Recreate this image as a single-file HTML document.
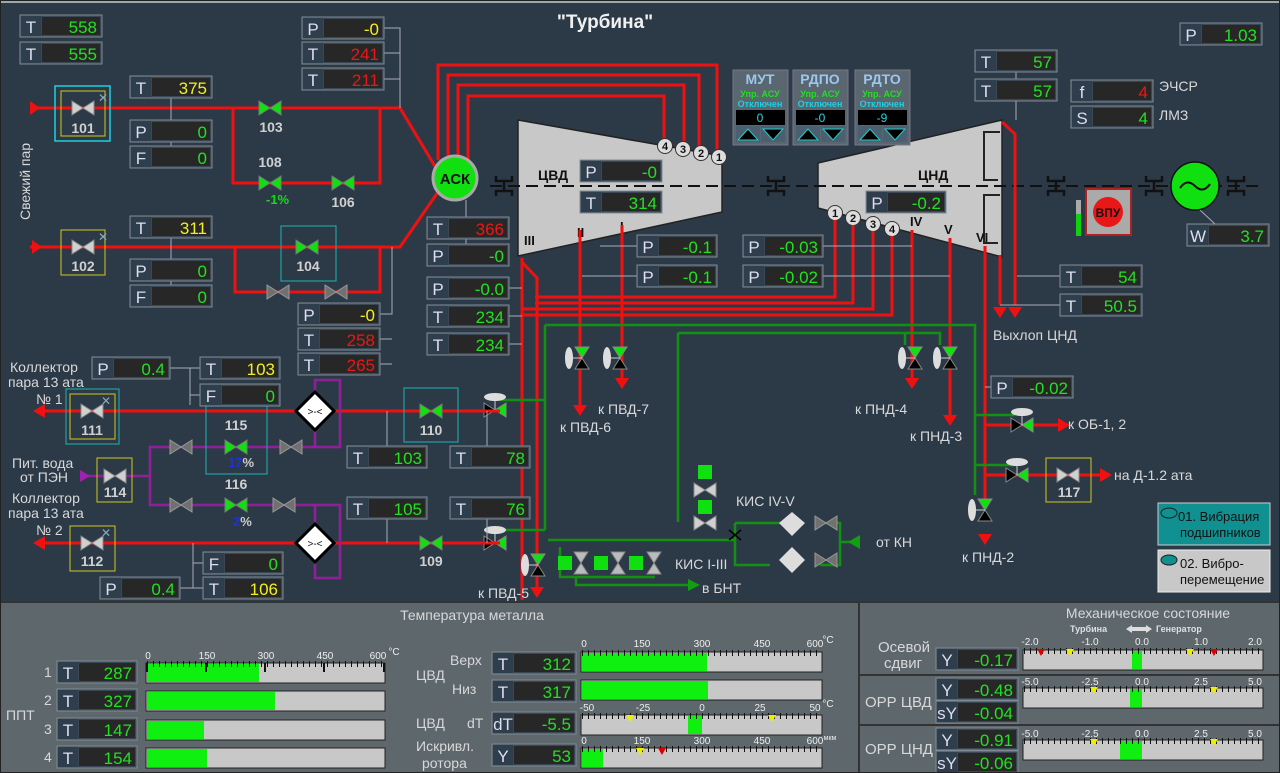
<!DOCTYPE html>
<html><head><meta charset="utf-8"><style>
html,body{margin:0;padding:0;background:#2c3a48;}
svg{display:block;font-family:"Liberation Sans",sans-serif;}
.o{fill:#3a4855;stroke:#808b93;stroke-width:1}
.l{fill:#2f3e4c}
.d{fill:#272727}
.lt{fill:#dde;font-size:17px;text-anchor:middle}
.vt{font-size:17px;text-anchor:end}
.g{fill:#22e022}.y{fill:#f0f020}.r{fill:#e81818}
.lbl{fill:#d8d8d8;font-size:14px}
.num{fill:#d0d0d0;font-size:14px;font-weight:bold;text-anchor:middle}
.rp{stroke:#f01010;stroke-width:3;fill:none}
.gp{stroke:#129012;stroke-width:2.5;fill:none}
.pp{stroke:#90209a;stroke-width:2.5;fill:none}
.wl{stroke:#aab;stroke-width:1;fill:none}
.bar{fill:#c8c8c8;stroke:#222;stroke-width:1}
.tk{fill:#eee;font-size:10px;text-anchor:middle}
</style></head><body>
<svg width="1280" height="773" viewBox="0 0 1280 773" xmlns="http://www.w3.org/2000/svg">
<defs>
<g id="vG"><polygon points="-11,-7 0,0 -11,7" fill="#10e010" stroke="#777"/><polygon points="11,-7 0,0 11,7" fill="#10e010" stroke="#777"/></g>
<g id="vW"><polygon points="-11,-7 0,0 -11,7" fill="#d0d0d0" stroke="#888"/><polygon points="11,-7 0,0 11,7" fill="#d0d0d0" stroke="#888"/></g>
<g id="vD"><polygon points="-11,-7 0,0 -11,7" fill="#707070" stroke="#999"/><polygon points="11,-7 0,0 11,7" fill="#707070" stroke="#999"/></g>
<g id="vBG"><polygon points="-11,-7 0,0 -11,7" fill="#000" stroke="#888"/><polygon points="11,-7 0,0 11,7" fill="#10e010" stroke="#888"/><ellipse cx="0" cy="-13" rx="11" ry="4" fill="#ddd"/><line x1="0" y1="-9" x2="0" y2="0" stroke="#ccc"/></g>
<g id="vV"><polygon points="-7,-11 0,0 7,-11" fill="#10e010" stroke="#888"/><polygon points="-7,11 0,0 7,11" fill="#000" stroke="#888"/><ellipse cx="-13" cy="0" rx="4" ry="11" fill="#ddd"/><line x1="-9" y1="0" x2="0" y2="0" stroke="#ccc"/></g>
<g id="vVG"><polygon points="-7,-11 0,0 7,-11" fill="#bbb" stroke="#888"/><polygon points="-7,11 0,0 7,11" fill="#bbb" stroke="#888"/></g>
<g id="arR"><polygon points="0,0 -7,-11 7,-11" fill="#f01010"/></g>
<g id="cp" stroke="#111" stroke-width="2.5" fill="none"><path d="M-8,-10 v5 h16 v-5 M-8,10 v-5 h16 v5 M0,-5 v10"/></g>
</defs>
<rect x="0" y="0" width="1280" height="773" fill="#2c3a48"/>
<rect x="0" y="0" width="1280" height="3" fill="#9aa"/>
<text x="605" y="28" fill="#f0f0f0" font-size="19" font-weight="bold" text-anchor="middle">"Турбина"</text>

<path class="rp" d="M30,108 H400 L436,168"/>
<path class="rp" d="M30,247 H400 L438,192"/>
<path class="rp" d="M233,108 V183 H380 V108"/>
<path class="rp" d="M235,247 V292 H380 V247"/>
<polygon points="30,101 40,108 30,115" fill="#f01010"/>
<polygon points="32,240 42,247 32,254" fill="#f01010"/>
<path class="rp" d="M438,160 V65 H717 V152"/>
<path class="rp" d="M448,158 V75 H699 V146"/>
<path class="rp" d="M458,157 V85 H684 V142"/>
<path class="rp" d="M468,159 V96 H664 V140"/>

<polygon points="518,120 722,156 722,212 518,256" fill="#c8c8c8" stroke="#222" stroke-width="1.5"/>
<polygon points="818,163 1002,120 1002,257 818,208" fill="#c8c8c8" stroke="#222" stroke-width="1.5"/>
<path d="M1000,132 h-16 v48 h14 M1000,195 h-16 v48 h14" stroke="#222" stroke-width="2" fill="none"/>
<line x1="490" y1="186" x2="1260" y2="186" stroke="#111" stroke-width="2" stroke-dasharray="12,6"/>
<use href="#cp" x="504" y="186"/><use href="#cp" x="776" y="186"/><use href="#cp" x="1056" y="186"/><use href="#cp" x="1154" y="186"/><use href="#cp" x="1236" y="186"/>
<text x="538" y="180" font-size="14" font-weight="bold" fill="#111">ЦВД</text>
<text x="918" y="180" font-size="14" font-weight="bold" fill="#111">ЦНД</text>
<g font-size="13" font-weight="bold" fill="#111">
<text x="524" y="245">III</text><text x="577" y="237">II</text><text x="620" y="231">I</text>
<text x="910" y="226">IV</text><text x="944" y="234">V</text><text x="976" y="242">VI</text></g>
<g font-size="11" font-weight="bold" text-anchor="middle" fill="#111">
<circle cx="665" cy="146" r="7.5" fill="#ddd" stroke="#333"/><text x="665" y="150">4</text>
<circle cx="683" cy="149" r="7.5" fill="#ddd" stroke="#333"/><text x="683" y="153">3</text>
<circle cx="701" cy="153" r="7.5" fill="#ddd" stroke="#333"/><text x="701" y="157">2</text>
<circle cx="719" cy="157" r="7.5" fill="#ddd" stroke="#333"/><text x="719" y="161">1</text>
<circle cx="835" cy="213" r="7.5" fill="#ddd" stroke="#333"/><text x="835" y="217">1</text>
<circle cx="853" cy="218" r="7.5" fill="#ddd" stroke="#333"/><text x="853" y="222">2</text>
<circle cx="873" cy="224" r="7.5" fill="#ddd" stroke="#333"/><text x="873" y="228">3</text>
<circle cx="892" cy="229" r="7.5" fill="#ddd" stroke="#333"/><text x="892" y="233">4</text></g>

<circle cx="455" cy="178" r="22" fill="#10e010" stroke="#aaa" stroke-width="3"/>
<text x="455" y="184" font-size="15" font-weight="bold" text-anchor="middle" fill="#111">АСК</text>

<path class="rp" d="M522,258 V600"/>
<path class="rp" d="M522,262 L537,278 V590"/>
<path class="rp" d="M535,297 H835 V220"/>
<path class="rp" d="M535,303 H853 V225"/>
<path class="rp" d="M522,309 H873 V231"/>
<path class="rp" d="M522,315 H892 V236"/>
<path class="rp" d="M580,230 V405"/><use href="#arR" x="580" y="416"/>
<path class="rp" d="M622,225 V378"/><use href="#arR" x="622" y="389"/>
<path class="rp" d="M912,230 V378"/><use href="#arR" x="912" y="389"/>
<path class="rp" d="M950,238 V415"/><use href="#arR" x="950" y="426"/>
<path class="rp" d="M985,246 V505"/><use href="#arR" x="985" y="545"/>
<path class="rp" d="M1002,122 L1015,134 V305"/><use href="#arR" x="1015" y="318"/>
<path class="rp" d="M1000,255 V305"/><use href="#arR" x="1000" y="318"/>
<path class="rp" d="M985,425 H1060"/><polygon points="1058,418 1070,425 1058,432" fill="#f01010"/>
<path class="rp" d="M985,475 H1100"/><polygon points="1100,468 1112,475 1100,482" fill="#f01010"/>
<use href="#arR" x="537" y="598"/>

<path class="gp" d="M545,325 H975 V400 M545,325 V530 M975,400 V495"/>
<path class="gp" d="M678,333 H940 V345 M678,333 V522 M905,333 V345"/>
<path class="gp" d="M545,400 H500 M545,530 H500 M548,540 H735"/>
<path class="gp" d="M975,415 H1015 M975,465 H1015"/>
<path class="gp" d="M576,577 V585 H690"/><polygon points="688,579 700,585 688,591" fill="#10a010"/>
<path class="gp" d="M735,523 V565 H770 M735,523 H780 M820,523 H840 V565 H820 M840,542 H860"/>
<polygon points="860,535 848,542 860,549" fill="#10a010"/>
<path class="gp" d="M560,547 V577 H655"/>
<line x1="729" y1="530" x2="741" y2="540" stroke="#000" stroke-width="1.5"/><line x1="741" y1="530" x2="729" y2="540" stroke="#000" stroke-width="1.5"/>

<use href="#vV" x="582" y="358"/><use href="#vV" x="620" y="358"/>
<use href="#vV" x="915" y="358"/><use href="#vV" x="950" y="358"/>
<use href="#vV" x="985" y="510"/><use href="#vV" x="538" y="565"/>
<use href="#vBG" x="495" y="410"/><use href="#vBG" x="495" y="543"/>
<use href="#vBG" x="1022" y="425"/><use href="#vBG" x="1017" y="475"/>
<rect x="698" y="465" width="14" height="14" fill="#10e010"/><rect x="698" y="500" width="14" height="14" fill="#10e010"/>
<use href="#vW" x="705" y="490"/>
<use href="#vW" x="705" y="523"/>
<rect x="558" y="556" width="14" height="14" fill="#10e010"/><rect x="594" y="556" width="14" height="14" fill="#10e010"/><rect x="629" y="556" width="14" height="14" fill="#10e010"/>
<use href="#vVG" x="581" y="563"/><use href="#vVG" x="618" y="563"/><use href="#vVG" x="654" y="563"/>
<polygon points="792,512 805,523 792,536 779,523" fill="#ddd"/>
<polygon points="792,547 805,560 792,573 779,560" fill="#ddd"/>
<use href="#vD" x="826" y="523"/><use href="#vD" x="826" y="560"/>

<path class="rp" d="M40,411 H500"/>
<path class="rp" d="M40,543 H500"/>
<polygon points="45,404 33,411 45,418" fill="#f01010"/>
<polygon points="45,536 33,543 45,550" fill="#f01010"/>
<path class="pp" d="M80,476 H150 V447 H315 V380 H340 V447 H315 M150,476 V505 H315 V578 H340 V505 H315"/>
<polygon points="80,470 90,476 80,482" fill="#a020b0"/>
<polygon points="315,392 334,411 315,430 296,411" fill="#fff" stroke="#000" stroke-width="3"/>
<polygon points="315,524 334,543 315,562 296,543" fill="#fff" stroke="#000" stroke-width="3"/>
<text x="315" y="415" font-size="10" text-anchor="middle" fill="#111">&gt;-&lt;</text>
<text x="315" y="547" font-size="10" text-anchor="middle" fill="#111">&gt;-&lt;</text>

<rect x="55" y="86" width="55" height="55" fill="none" stroke="#20d0e0" stroke-width="1.5"/>
<rect x="61" y="91" width="44" height="45" fill="none" stroke="#d0c820" stroke-width="1"/>
<use href="#vW" x="83" y="108"/><text class="num" x="83" y="133">101</text><text x="98" y="102" fill="#8ab" font-size="12">✕</text>
<rect x="61" y="230" width="44" height="45" fill="none" stroke="#d0c820" stroke-width="1"/>
<use href="#vW" x="83" y="247"/><text class="num" x="83" y="271">102</text><text x="98" y="241" fill="#8ab" font-size="12">✕</text>
<use href="#vG" x="270" y="108"/><text class="num" x="271" y="132">103</text>
<text class="num" x="270" y="167">108</text><use href="#vG" x="270" y="183"/><text x="266" y="204" fill="#1d1" font-size="13" font-weight="bold">-1%</text>
<use href="#vG" x="343" y="183"/><text class="num" x="343" y="207">106</text>
<rect x="281" y="226" width="55" height="55" fill="none" stroke="#20a0a0" stroke-width="1.2"/>
<use href="#vG" x="307" y="247"/><text class="num" x="308" y="271">104</text>
<use href="#vD" x="278" y="292"/><use href="#vD" x="336" y="292"/>
<rect x="66" y="389" width="53" height="55" fill="none" stroke="#20a0a0" stroke-width="1.2"/>
<rect x="70" y="394" width="45" height="45" fill="none" stroke="#d0c820"/>
<use href="#vW" x="92" y="411"/><text class="num" x="92" y="435">111</text><text x="101" y="405" fill="#8ab" font-size="12">✕</text>
<rect x="97" y="458" width="35" height="44" fill="none" stroke="#d0c820"/>
<use href="#vW" x="115" y="476"/><text class="num" x="115" y="497">114</text>
<rect x="70" y="526" width="45" height="45" fill="none" stroke="#d0c820"/>
<use href="#vW" x="92" y="543"/><text class="num" x="92" y="566">112</text><text x="101" y="537" fill="#8ab" font-size="12">✕</text>
<rect x="206" y="406" width="61" height="68" fill="none" stroke="#20a0a0" stroke-width="1.2"/>
<text class="num" x="236" y="430">115</text><use href="#vG" x="236" y="447"/><text x="228" y="467" font-size="13" font-weight="bold"><tspan fill="#2030e0">17</tspan><tspan fill="#ccc">%</tspan></text>
<use href="#vD" x="181" y="447"/><use href="#vD" x="291" y="447"/>
<text class="num" x="236" y="489">116</text><use href="#vG" x="236" y="505"/><text x="233" y="526" font-size="13" font-weight="bold"><tspan fill="#2030e0">2</tspan><tspan fill="#ccc">%</tspan></text>
<use href="#vD" x="181" y="505"/><use href="#vD" x="284" y="505"/>
<rect x="404" y="388" width="54" height="54" fill="none" stroke="#20a0a0" stroke-width="1.2"/>
<use href="#vG" x="431" y="411"/><text class="num" x="431" y="435">110</text>
<use href="#vG" x="431" y="543"/><text class="num" x="431" y="566">109</text>
<rect x="1046" y="458" width="45" height="44" fill="none" stroke="#d0c820"/>
<use href="#vW" x="1068" y="475"/><text class="num" x="1069" y="497">117</text>

<path class="wl" d="M384,28 H400 V108 M384,53 H400 M384,79 H400"/>
<path class="wl" d="M171,98 V120 M171,142 V146 M171,238 V259 M171,281 V285"/>
<path class="wl" d="M380,314 H392 V247 M380,339 H392 M380,364 H392"/>
<path class="wl" d="M466,200 V217 M466,239 V244 M507,288 H522 M507,316 H522 M507,344 H522"/>
<path class="wl" d="M600,246 H637 M582,276 H637 M823,246 H912 M823,276 H950"/>
<path class="wl" d="M1016,72 V79 M1016,101 V120 M1017,276 H1060 M1000,305 H1060 M985,387 H991"/>
<path class="wl" d="M1200,210 L1215,224"/>
<path class="wl" d="M170,368 H190 V405 M190,368 H200 M190,395 H200"/>
<path class="wl" d="M387,411 V446 M487,411 V446 M387,519 V543 M487,519 V543"/>
<path class="wl" d="M193,543 V588 H203 M193,563 H203 M180,588 H193"/>

<circle cx="1195" cy="186" r="24" fill="#10e010" stroke="#111" stroke-width="1.5"/>
<path d="M1180,188 q7,-10 15,-2 q8,8 15,-2" stroke="#111" stroke-width="2" fill="none"/>
<rect x="1086" y="189" width="45" height="46" fill="#aaa" stroke="#b02020" stroke-width="2"/>
<circle cx="1108" cy="212" r="15" fill="#e81818"/>
<text x="1108" y="217" font-size="12" font-weight="bold" text-anchor="middle" fill="#111">ВПУ</text>
<rect x="1076" y="200" width="5" height="36" fill="#aaa"/><rect x="1076" y="214" width="5" height="22" fill="#10d010"/>

<g font-weight="bold" text-anchor="middle">
<rect x="733" y="70" width="55" height="75" fill="#5a6670" stroke="#778"/>
<text x="760" y="84" fill="#9cc8f0" font-size="14">МУТ</text><text x="760" y="97" fill="#20e020" font-size="9">Упр. АСУ</text><text x="760" y="107" fill="#20d0e0" font-size="9">Отключен</text>
<rect x="736" y="110" width="49" height="15" fill="#000"/><text x="760" y="122" fill="#30d0e0" font-size="12" font-weight="normal">0</text>
<rect x="736" y="126" width="24" height="16" fill="#4a6070"/><rect x="761" y="126" width="24" height="16" fill="#4a6070"/>
<polygon points="738,140 748,129 758,140" fill="#000" stroke="#2cc"/><polygon points="763,129 783,129 773,140" fill="#000" stroke="#2cc"/>
<rect x="793" y="70" width="55" height="75" fill="#5a6670" stroke="#778"/>
<text x="820" y="84" fill="#9cc8f0" font-size="14">РДПО</text><text x="820" y="97" fill="#20e020" font-size="9">Упр. АСУ</text><text x="820" y="107" fill="#20d0e0" font-size="9">Отключен</text>
<rect x="796" y="110" width="49" height="15" fill="#000"/><text x="820" y="122" fill="#30d0e0" font-size="12" font-weight="normal">-0</text>
<rect x="796" y="126" width="24" height="16" fill="#4a6070"/><rect x="821" y="126" width="24" height="16" fill="#4a6070"/>
<polygon points="798,140 808,129 818,140" fill="#000" stroke="#2cc"/><polygon points="823,129 843,129 833,140" fill="#000" stroke="#2cc"/>
<rect x="855" y="70" width="55" height="75" fill="#5a6670" stroke="#778"/>
<text x="882" y="84" fill="#9cc8f0" font-size="14">РДТО</text><text x="882" y="97" fill="#20e020" font-size="9">Упр. АСУ</text><text x="882" y="107" fill="#20d0e0" font-size="9">Отключен</text>
<rect x="858" y="110" width="49" height="15" fill="#000"/><text x="882" y="122" fill="#30d0e0" font-size="12" font-weight="normal">-9</text>
<rect x="858" y="126" width="24" height="16" fill="#4a6070"/><rect x="883" y="126" width="24" height="16" fill="#4a6070"/>
<polygon points="860,140 870,129 880,140" fill="#000" stroke="#2cc"/><polygon points="885,129 905,129 895,140" fill="#000" stroke="#2cc"/>
</g>

<text class="lbl" transform="translate(30,220) rotate(-90)">Свежий пар</text>
<text class="lbl" x="10" y="372">Коллектор</text><text class="lbl" x="8" y="387">пара 13 ата</text><text class="lbl" x="36" y="404">№ 1</text>
<text class="lbl" x="12" y="468">Пит. вода</text><text class="lbl" x="20" y="482">от ПЭН</text>
<text class="lbl" x="12" y="503">Коллектор</text><text class="lbl" x="8" y="518">пара 13 ата</text><text class="lbl" x="36" y="535">№ 2</text>
<text class="lbl" x="560" y="432">к ПВД-6</text><text class="lbl" x="598" y="414">к ПВД-7</text>
<text class="lbl" x="478" y="598">к ПВД-5</text>
<text class="lbl" x="855" y="414">к ПНД-4</text><text class="lbl" x="910" y="441">к ПНД-3</text>
<text class="lbl" x="962" y="562">к ПНД-2</text>
<text class="lbl" x="993" y="340">Выхлоп ЦНД</text>
<text class="lbl" x="1068" y="429">к ОБ-1, 2</text><text class="lbl" x="1114" y="480">на Д-1.2 ата</text>
<text class="lbl" x="736" y="506">КИС IV-V</text><text class="lbl" x="675" y="569">КИС I-III</text>
<text class="lbl" x="702" y="593">в БНТ</text><text class="lbl" x="876" y="547">от КН</text>
<text class="lbl" x="1159" y="91">ЭЧСР</text><text class="lbl" x="1159" y="120">ЛМЗ</text>

<rect x="1158" y="503" width="112" height="42" fill="#109090" stroke="#ccc"/>
<ellipse cx="1169" cy="513" rx="8" ry="5" fill="#109090" stroke="#222"/>
<text x="1178" y="521" font-size="13" fill="#111">01. Вибрация</text><text x="1180" y="537" font-size="13" fill="#111">подшипников</text>
<rect x="1158" y="550" width="112" height="42" fill="#c8c8c8" stroke="#eee"/>
<ellipse cx="1169" cy="560" rx="8" ry="5" fill="#109090" stroke="#222"/>
<text x="1180" y="568" font-size="13" fill="#111">02. Вибро-</text><text x="1180" y="584" font-size="13" fill="#111">перемещение</text>

<g transform="translate(20,15)"><rect class="o" width="82" height="22"/><rect class="l" x="1" y="1" width="20" height="20"/><text class="lt" x="11" y="18">T</text><rect class="d" x="22" y="2" width="58" height="18"/><text class="vt g" x="77" y="18">558</text></g>
<g transform="translate(20,42)"><rect class="o" width="82" height="22"/><rect class="l" x="1" y="1" width="20" height="20"/><text class="lt" x="11" y="18">T</text><rect class="d" x="22" y="2" width="58" height="18"/><text class="vt g" x="77" y="18">555</text></g>
<g transform="translate(302,17)"><rect class="o" width="82" height="22"/><rect class="l" x="1" y="1" width="20" height="20"/><text class="lt" x="11" y="18">P</text><rect class="d" x="22" y="2" width="58" height="18"/><text class="vt y" x="77" y="18">-0</text></g>
<g transform="translate(302,42)"><rect class="o" width="82" height="22"/><rect class="l" x="1" y="1" width="20" height="20"/><text class="lt" x="11" y="18">T</text><rect class="d" x="22" y="2" width="58" height="18"/><text class="vt r" x="77" y="18">241</text></g>
<g transform="translate(302,68)"><rect class="o" width="82" height="22"/><rect class="l" x="1" y="1" width="20" height="20"/><text class="lt" x="11" y="18">T</text><rect class="d" x="22" y="2" width="58" height="18"/><text class="vt r" x="77" y="18">211</text></g>
<g transform="translate(130,76)"><rect class="o" width="82" height="22"/><rect class="l" x="1" y="1" width="20" height="20"/><text class="lt" x="11" y="18">T</text><rect class="d" x="22" y="2" width="58" height="18"/><text class="vt y" x="77" y="18">375</text></g>
<g transform="translate(130,120)"><rect class="o" width="82" height="22"/><rect class="l" x="1" y="1" width="20" height="20"/><text class="lt" x="11" y="18">P</text><rect class="d" x="22" y="2" width="58" height="18"/><text class="vt g" x="77" y="18">0</text></g>
<g transform="translate(130,146)"><rect class="o" width="82" height="22"/><rect class="l" x="1" y="1" width="20" height="20"/><text class="lt" x="11" y="18">F</text><rect class="d" x="22" y="2" width="58" height="18"/><text class="vt g" x="77" y="18">0</text></g>
<g transform="translate(130,216)"><rect class="o" width="82" height="22"/><rect class="l" x="1" y="1" width="20" height="20"/><text class="lt" x="11" y="18">T</text><rect class="d" x="22" y="2" width="58" height="18"/><text class="vt y" x="77" y="18">311</text></g>
<g transform="translate(130,259)"><rect class="o" width="82" height="22"/><rect class="l" x="1" y="1" width="20" height="20"/><text class="lt" x="11" y="18">P</text><rect class="d" x="22" y="2" width="58" height="18"/><text class="vt g" x="77" y="18">0</text></g>
<g transform="translate(130,285)"><rect class="o" width="82" height="22"/><rect class="l" x="1" y="1" width="20" height="20"/><text class="lt" x="11" y="18">F</text><rect class="d" x="22" y="2" width="58" height="18"/><text class="vt g" x="77" y="18">0</text></g>
<g transform="translate(298,303)"><rect class="o" width="82" height="22"/><rect class="l" x="1" y="1" width="20" height="20"/><text class="lt" x="11" y="18">P</text><rect class="d" x="22" y="2" width="58" height="18"/><text class="vt y" x="77" y="18">-0</text></g>
<g transform="translate(298,328)"><rect class="o" width="82" height="22"/><rect class="l" x="1" y="1" width="20" height="20"/><text class="lt" x="11" y="18">T</text><rect class="d" x="22" y="2" width="58" height="18"/><text class="vt r" x="77" y="18">258</text></g>
<g transform="translate(298,353)"><rect class="o" width="82" height="22"/><rect class="l" x="1" y="1" width="20" height="20"/><text class="lt" x="11" y="18">T</text><rect class="d" x="22" y="2" width="58" height="18"/><text class="vt r" x="77" y="18">265</text></g>
<g transform="translate(427,217)"><rect class="o" width="82" height="22"/><rect class="l" x="1" y="1" width="20" height="20"/><text class="lt" x="11" y="18">T</text><rect class="d" x="22" y="2" width="58" height="18"/><text class="vt r" x="77" y="18">366</text></g>
<g transform="translate(427,244)"><rect class="o" width="82" height="22"/><rect class="l" x="1" y="1" width="20" height="20"/><text class="lt" x="11" y="18">P</text><rect class="d" x="22" y="2" width="58" height="18"/><text class="vt g" x="77" y="18">-0</text></g>
<g transform="translate(427,277)"><rect class="o" width="82" height="22"/><rect class="l" x="1" y="1" width="20" height="20"/><text class="lt" x="11" y="18">P</text><rect class="d" x="22" y="2" width="58" height="18"/><text class="vt g" x="77" y="18">-0.0</text></g>
<g transform="translate(427,305)"><rect class="o" width="82" height="22"/><rect class="l" x="1" y="1" width="20" height="20"/><text class="lt" x="11" y="18">T</text><rect class="d" x="22" y="2" width="58" height="18"/><text class="vt g" x="77" y="18">234</text></g>
<g transform="translate(427,333)"><rect class="o" width="82" height="22"/><rect class="l" x="1" y="1" width="20" height="20"/><text class="lt" x="11" y="18">T</text><rect class="d" x="22" y="2" width="58" height="18"/><text class="vt g" x="77" y="18">234</text></g>
<g transform="translate(580,160)"><rect class="o" width="82" height="22"/><rect class="l" x="1" y="1" width="20" height="20"/><text class="lt" x="11" y="18">P</text><rect class="d" x="22" y="2" width="58" height="18"/><text class="vt g" x="77" y="18">-0</text></g>
<g transform="translate(580,191)"><rect class="o" width="82" height="22"/><rect class="l" x="1" y="1" width="20" height="20"/><text class="lt" x="11" y="18">T</text><rect class="d" x="22" y="2" width="58" height="18"/><text class="vt g" x="77" y="18">314</text></g>
<g transform="translate(637,235)"><rect class="o" width="80" height="22"/><rect class="l" x="1" y="1" width="20" height="20"/><text class="lt" x="11" y="18">P</text><rect class="d" x="22" y="2" width="56" height="18"/><text class="vt g" x="75" y="18">-0.1</text></g>
<g transform="translate(637,265)"><rect class="o" width="80" height="22"/><rect class="l" x="1" y="1" width="20" height="20"/><text class="lt" x="11" y="18">P</text><rect class="d" x="22" y="2" width="56" height="18"/><text class="vt g" x="75" y="18">-0.1</text></g>
<g transform="translate(743,235)"><rect class="o" width="80" height="22"/><rect class="l" x="1" y="1" width="20" height="20"/><text class="lt" x="11" y="18">P</text><rect class="d" x="22" y="2" width="56" height="18"/><text class="vt g" x="75" y="18">-0.03</text></g>
<g transform="translate(743,265)"><rect class="o" width="80" height="22"/><rect class="l" x="1" y="1" width="20" height="20"/><text class="lt" x="11" y="18">P</text><rect class="d" x="22" y="2" width="56" height="18"/><text class="vt g" x="75" y="18">-0.02</text></g>
<g transform="translate(866,191)"><rect class="o" width="80" height="22"/><rect class="l" x="1" y="1" width="20" height="20"/><text class="lt" x="11" y="18">P</text><rect class="d" x="22" y="2" width="56" height="18"/><text class="vt g" x="75" y="18">-0.2</text></g>
<g transform="translate(975,50)"><rect class="o" width="82" height="22"/><rect class="l" x="1" y="1" width="20" height="20"/><text class="lt" x="11" y="18">T</text><rect class="d" x="22" y="2" width="58" height="18"/><text class="vt g" x="77" y="18">57</text></g>
<g transform="translate(975,79)"><rect class="o" width="82" height="22"/><rect class="l" x="1" y="1" width="20" height="20"/><text class="lt" x="11" y="18">T</text><rect class="d" x="22" y="2" width="58" height="18"/><text class="vt g" x="77" y="18">57</text></g>
<g transform="translate(1071,80)"><rect class="o" width="82" height="22"/><rect class="l" x="1" y="1" width="20" height="20"/><text class="lt" x="11" y="18">f</text><rect class="d" x="22" y="2" width="58" height="18"/><text class="vt r" x="77" y="18">4</text></g>
<g transform="translate(1071,106)"><rect class="o" width="82" height="22"/><rect class="l" x="1" y="1" width="20" height="20"/><text class="lt" x="11" y="18">S</text><rect class="d" x="22" y="2" width="58" height="18"/><text class="vt g" x="77" y="18">4</text></g>
<g transform="translate(1180,23)"><rect class="o" width="82" height="22"/><rect class="l" x="1" y="1" width="20" height="20"/><text class="lt" x="11" y="18">P</text><rect class="d" x="22" y="2" width="58" height="18"/><text class="vt g" x="77" y="18">1.03</text></g>
<g transform="translate(1187,224)"><rect class="o" width="82" height="22"/><rect class="l" x="1" y="1" width="20" height="20"/><text class="lt" x="11" y="18">W</text><rect class="d" x="22" y="2" width="58" height="18"/><text class="vt g" x="77" y="18">3.7</text></g>
<g transform="translate(1060,265)"><rect class="o" width="82" height="22"/><rect class="l" x="1" y="1" width="20" height="20"/><text class="lt" x="11" y="18">T</text><rect class="d" x="22" y="2" width="58" height="18"/><text class="vt g" x="77" y="18">54</text></g>
<g transform="translate(1060,294)"><rect class="o" width="82" height="22"/><rect class="l" x="1" y="1" width="20" height="20"/><text class="lt" x="11" y="18">T</text><rect class="d" x="22" y="2" width="58" height="18"/><text class="vt g" x="77" y="18">50.5</text></g>
<g transform="translate(991,376)"><rect class="o" width="82" height="22"/><rect class="l" x="1" y="1" width="20" height="20"/><text class="lt" x="11" y="18">P</text><rect class="d" x="22" y="2" width="58" height="18"/><text class="vt g" x="77" y="18">-0.02</text></g>
<g transform="translate(92,357)"><rect class="o" width="78" height="22"/><rect class="l" x="1" y="1" width="20" height="20"/><text class="lt" x="11" y="18">P</text><rect class="d" x="22" y="2" width="54" height="18"/><text class="vt g" x="73" y="18">0.4</text></g>
<g transform="translate(200,357)"><rect class="o" width="80" height="22"/><rect class="l" x="1" y="1" width="20" height="20"/><text class="lt" x="11" y="18">T</text><rect class="d" x="22" y="2" width="56" height="18"/><text class="vt y" x="75" y="18">103</text></g>
<g transform="translate(200,384)"><rect class="o" width="80" height="22"/><rect class="l" x="1" y="1" width="20" height="20"/><text class="lt" x="11" y="18">F</text><rect class="d" x="22" y="2" width="56" height="18"/><text class="vt g" x="75" y="18">0</text></g>
<g transform="translate(347,446)"><rect class="o" width="80" height="22"/><rect class="l" x="1" y="1" width="20" height="20"/><text class="lt" x="11" y="18">T</text><rect class="d" x="22" y="2" width="56" height="18"/><text class="vt g" x="75" y="18">103</text></g>
<g transform="translate(450,446)"><rect class="o" width="80" height="22"/><rect class="l" x="1" y="1" width="20" height="20"/><text class="lt" x="11" y="18">T</text><rect class="d" x="22" y="2" width="56" height="18"/><text class="vt g" x="75" y="18">78</text></g>
<g transform="translate(347,497)"><rect class="o" width="80" height="22"/><rect class="l" x="1" y="1" width="20" height="20"/><text class="lt" x="11" y="18">T</text><rect class="d" x="22" y="2" width="56" height="18"/><text class="vt g" x="75" y="18">105</text></g>
<g transform="translate(450,497)"><rect class="o" width="80" height="22"/><rect class="l" x="1" y="1" width="20" height="20"/><text class="lt" x="11" y="18">T</text><rect class="d" x="22" y="2" width="56" height="18"/><text class="vt g" x="75" y="18">76</text></g>
<g transform="translate(203,552)"><rect class="o" width="80" height="22"/><rect class="l" x="1" y="1" width="20" height="20"/><text class="lt" x="11" y="18">F</text><rect class="d" x="22" y="2" width="56" height="18"/><text class="vt g" x="75" y="18">0</text></g>
<g transform="translate(100,577)"><rect class="o" width="80" height="22"/><rect class="l" x="1" y="1" width="20" height="20"/><text class="lt" x="11" y="18">P</text><rect class="d" x="22" y="2" width="56" height="18"/><text class="vt g" x="75" y="18">0.4</text></g>
<g transform="translate(203,577)"><rect class="o" width="80" height="22"/><rect class="l" x="1" y="1" width="20" height="20"/><text class="lt" x="11" y="18">T</text><rect class="d" x="22" y="2" width="56" height="18"/><text class="vt y" x="75" y="18">106</text></g>

<rect x="0" y="601" width="1280" height="172" fill="#5d676c"/>
<line x1="0" y1="602" x2="1280" y2="602" stroke="#333" stroke-width="2"/>
<line x1="859" y1="602" x2="859" y2="773" stroke="#333" stroke-width="2"/>
<line x1="860" y1="675" x2="1280" y2="675" stroke="#333" stroke-width="2"/>
<line x1="860" y1="725" x2="1280" y2="725" stroke="#333" stroke-width="2"/>
<text x="472" y="620" fill="#d8d8d8" font-size="14" text-anchor="middle">Температура металла</text>
<text x="1148" y="618" fill="#d8d8d8" font-size="14" text-anchor="middle">Механическое состояние</text>
<text x="1070" y="632" fill="#e0e0e0" font-size="9" font-weight="bold">Турбина</text><text x="1156" y="632" fill="#e0e0e0" font-size="9" font-weight="bold">Генератор</text>
<path d="M1126,629 l6,-4 v2 h14 v-2 l6,4 l-6,4 v-2 h-14 v2 z" fill="#ddd"/>

<g class="lbl" fill="#d0d0d0"><text x="44" y="677">1</text><text x="44" y="705">2</text><text x="44" y="734">3</text><text x="44" y="762">4</text><text x="6" y="720">ППТ</text>
<text x="450" y="665">Верх</text><text x="452" y="694">Низ</text><text x="416" y="680">ЦВД</text>
<text x="416" y="728">ЦВД</text><text x="467" y="728">dT</text>
<text x="416" y="751">Искривл.</text><text x="422" y="768">ротора</text>
<text x="878" y="652" font-size="15">Осевой</text><text x="884" y="668" font-size="15">сдвиг</text>
<text x="865" y="707" font-size="15">ОРР ЦВД</text><text x="865" y="754" font-size="15">ОРР ЦНД</text></g>

<g transform="translate(57,661)"><rect class="o" width="80" height="22"/><rect class="l" x="1" y="1" width="20" height="20"/><text class="lt" x="11" y="18">T</text><rect class="d" x="22" y="2" width="56" height="18"/><text class="vt g" x="75" y="18">287</text></g>
<g transform="translate(57,689)"><rect class="o" width="80" height="22"/><rect class="l" x="1" y="1" width="20" height="20"/><text class="lt" x="11" y="18">T</text><rect class="d" x="22" y="2" width="56" height="18"/><text class="vt g" x="75" y="18">327</text></g>
<g transform="translate(57,718)"><rect class="o" width="80" height="22"/><rect class="l" x="1" y="1" width="20" height="20"/><text class="lt" x="11" y="18">T</text><rect class="d" x="22" y="2" width="56" height="18"/><text class="vt g" x="75" y="18">147</text></g>
<g transform="translate(57,746)"><rect class="o" width="80" height="22"/><rect class="l" x="1" y="1" width="20" height="20"/><text class="lt" x="11" y="18">T</text><rect class="d" x="22" y="2" width="56" height="18"/><text class="vt g" x="75" y="18">154</text></g>
<g transform="translate(492,652)"><rect class="o" width="84" height="22"/><rect class="l" x="1" y="1" width="20" height="20"/><text class="lt" x="11" y="18">T</text><rect class="d" x="22" y="2" width="60" height="18"/><text class="vt g" x="79" y="18">312</text></g>
<g transform="translate(492,680)"><rect class="o" width="84" height="22"/><rect class="l" x="1" y="1" width="20" height="20"/><text class="lt" x="11" y="18">T</text><rect class="d" x="22" y="2" width="60" height="18"/><text class="vt g" x="79" y="18">317</text></g>
<g transform="translate(492,712)"><rect class="o" width="84" height="22"/><rect class="l" x="1" y="1" width="20" height="20"/><text class="lt" x="11" y="18">dT</text><rect class="d" x="22" y="2" width="60" height="18"/><text class="vt g" x="79" y="18">-5.5</text></g>
<g transform="translate(492,744)"><rect class="o" width="84" height="22"/><rect class="l" x="1" y="1" width="20" height="20"/><text class="lt" x="11" y="18">Y</text><rect class="d" x="22" y="2" width="60" height="18"/><text class="vt g" x="79" y="18">53</text></g>
<g transform="translate(936,648)"><rect class="o" width="82" height="22"/><rect class="l" x="1" y="1" width="20" height="20"/><text class="lt" x="11" y="18">Y</text><rect class="d" x="22" y="2" width="58" height="18"/><text class="vt g" x="77" y="18">-0.17</text></g>
<g transform="translate(936,678)"><rect class="o" width="82" height="22"/><rect class="l" x="1" y="1" width="20" height="20"/><text class="lt" x="11" y="18">Y</text><rect class="d" x="22" y="2" width="58" height="18"/><text class="vt g" x="77" y="18">-0.48</text></g>
<g transform="translate(936,701)"><rect class="o" width="82" height="22"/><rect class="l" x="1" y="1" width="20" height="20"/><text class="lt" x="11" y="18">sY</text><rect class="d" x="22" y="2" width="58" height="18"/><text class="vt g" x="77" y="18">-0.04</text></g>
<g transform="translate(936,728)"><rect class="o" width="82" height="22"/><rect class="l" x="1" y="1" width="20" height="20"/><text class="lt" x="11" y="18">Y</text><rect class="d" x="22" y="2" width="58" height="18"/><text class="vt g" x="77" y="18">-0.91</text></g>
<g transform="translate(936,751)"><rect class="o" width="82" height="22"/><rect class="l" x="1" y="1" width="20" height="20"/><text class="lt" x="11" y="18">sY</text><rect class="d" x="22" y="2" width="58" height="18"/><text class="vt g" x="77" y="18">-0.06</text></g>

<rect class="bar" x="146" y="663" width="239" height="20"/><rect x="147" y="664" width="112" height="18" fill="#10f010"/>
<rect class="bar" x="146" y="691" width="239" height="20"/><rect x="147" y="692" width="128" height="18" fill="#10f010"/>
<rect class="bar" x="146" y="720" width="239" height="20"/><rect x="147" y="721" width="57" height="18" fill="#10f010"/>
<rect class="bar" x="146" y="748" width="239" height="20"/><rect x="147" y="749" width="60" height="18" fill="#10f010"/>
<path d="M147,663 V672 M206,663 V672 M265,663 V672 M324,663 V672 M384,663 V672" stroke="#111" stroke-width="2"/>
<line x1="147" y1="664" x2="384" y2="664" stroke="#111" stroke-dasharray="1,5" stroke-width="6"/>
<g class="tk"><text x="148" y="659">0</text><text x="207" y="659">150</text><text x="266" y="659">300</text><text x="325" y="659">450</text><text x="378" y="659">600</text><text x="394" y="655">°C</text></g>

<rect class="bar" x="581" y="652" width="241" height="20"/><rect x="582" y="653" width="125" height="18" fill="#10f010"/>
<rect class="bar" x="581" y="680" width="241" height="20"/><rect x="582" y="681" width="126" height="18" fill="#10f010"/>
<rect class="bar" x="581" y="715" width="241" height="20"/><rect x="688" y="716" width="14" height="18" fill="#10f010"/>
<rect class="bar" x="581" y="748" width="241" height="20"/><rect x="582" y="749" width="21" height="18" fill="#10f010"/>
<g stroke="#111" stroke-width="6" stroke-dasharray="1,5"><line x1="582" y1="653" x2="821" y2="653"/><line x1="582" y1="716" x2="821" y2="716"/><line x1="582" y1="749" x2="821" y2="749"/></g>
<g class="tk"><text x="584" y="647">0</text><text x="642" y="647">150</text><text x="702" y="647">300</text><text x="762" y="647">450</text><text x="815" y="647">600</text><text x="828" y="643">°C</text>
<text x="587" y="711">-50</text><text x="643" y="711">-25</text><text x="702" y="711">0</text><text x="760" y="711">25</text><text x="815" y="711">50</text><text x="828" y="707">°C</text>
<text x="584" y="744">0</text><text x="642" y="744">150</text><text x="702" y="744">300</text><text x="762" y="744">450</text><text x="815" y="744">600</text><text x="830" y="740" font-size="7">мкм</text></g>
<polygon points="626,715 634,715 630,722" fill="#ee0"/><polygon points="768,715 776,715 772,722" fill="#ee0"/>
<polygon points="636,748 644,748 640,755" fill="#ee0"/><polygon points="658,748 666,748 662,755" fill="#d00"/>

<rect class="bar" x="1023" y="650" width="240" height="20"/><rect x="1132" y="651" width="10" height="18" fill="#10f010"/>
<rect class="bar" x="1023" y="688" width="240" height="20"/><rect x="1130" y="689" width="12" height="18" fill="#10f010"/>
<rect class="bar" x="1023" y="740" width="240" height="20"/><rect x="1120" y="741" width="22" height="18" fill="#10f010"/>
<g stroke="#111" stroke-width="6" stroke-dasharray="1,5"><line x1="1024" y1="651" x2="1262" y2="651"/><line x1="1024" y1="689" x2="1262" y2="689"/><line x1="1024" y1="741" x2="1262" y2="741"/></g>
<g class="tk"><text x="1030" y="645">-2.0</text><text x="1090" y="645">-1.0</text><text x="1142" y="645">0.0</text><text x="1201" y="645">1.0</text><text x="1255" y="645">2.0</text>
<text x="1030" y="685">-5.0</text><text x="1090" y="685">-2.5</text><text x="1142" y="685">0.0</text><text x="1201" y="685">2.5</text><text x="1255" y="685">5.0</text>
<text x="1030" y="737">-5.0</text><text x="1090" y="737">-2.5</text><text x="1142" y="737">0.0</text><text x="1201" y="737">2.5</text><text x="1255" y="737">5.0</text></g>
<polygon points="1037,649 1045,649 1041,656" fill="#d00"/><polygon points="1066,649 1074,649 1070,656" fill="#ee0"/><polygon points="1186,649 1194,649 1190,656" fill="#ee0"/><polygon points="1210,649 1218,649 1214,656" fill="#d00"/>
<polygon points="1090,687 1098,687 1094,694" fill="#ee0"/><polygon points="1210,687 1218,687 1214,694" fill="#ee0"/>
<polygon points="1090,739 1098,739 1094,746" fill="#ee0"/><polygon points="1210,739 1218,739 1214,746" fill="#ee0"/>
<rect x="0" y="0" width="1280" height="773" fill="none" stroke="#222" stroke-width="2"/>
</svg>
</body></html>
